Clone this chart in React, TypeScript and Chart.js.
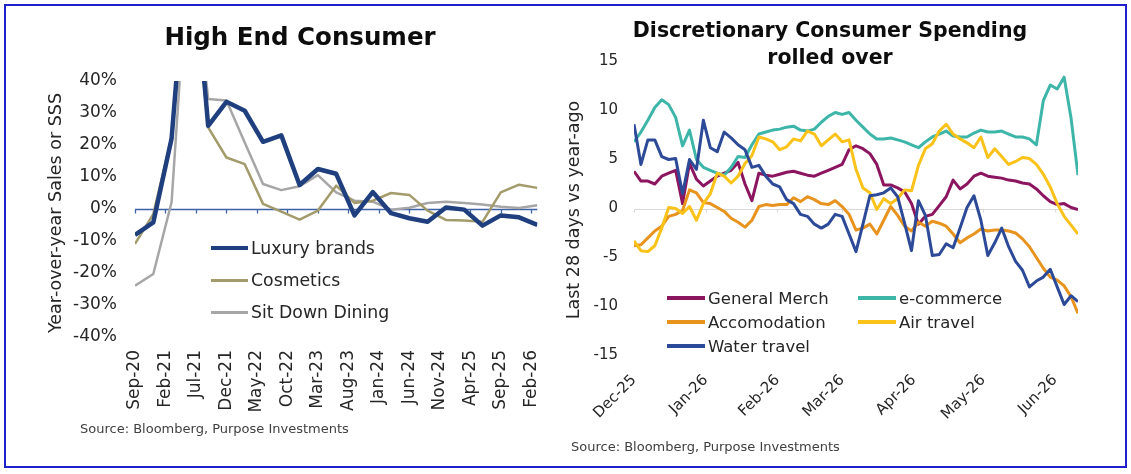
import { useEffect, useRef } from "react"
import { Chart, registerables } from "chart.js"

Chart.register(...registerables)

const FONT = '"DejaVu Sans", sans-serif'
const TEXT = "#262626"

// ---- High End Consumer (quarterly, YoY %) ----
const quarterLabels = [
  "Sep-20", "Dec-20", "Mar-21", "Jun-21", "Sep-21", "Dec-21", "Mar-22", "Jun-22",
  "Sep-22", "Dec-22", "Mar-23", "Jun-23", "Sep-23", "Dec-23", "Mar-24", "Jun-24",
  "Sep-24", "Dec-24", "Mar-25", "Jun-25", "Sep-25", "Dec-25", "Mar-26",
]
const luxuryBrands = [-8.1, -4.2, 22, 92, 26, 33.5, 30.7, 21, 23, 7.5, 12.5, 11, -2, 5.3, -1.3, -2.9, -4, 0.5, -0.2, -5.2, -2, -2.6, -5]
const cosmetics = [-10.9, -1.6, 22.4, 82, 25.5, 16.1, 14, 1.6, -0.8, -3.3, -0.5, 7.3, 1.9, 2.6, 5.0, 4.4, -0.5, -3.4, -3.6, -4.0, 5.2, 7.6, 6.6]
const sitDownDining = [-24, -20.3, 2.1, 88, 34.4, 33.9, 20.8, 7.8, 5.9, 7.1, 10.6, 5.2, 2.6, 2.3, -0.2, 0.4, 1.9, 2.3, 1.9, 1.4, 0.7, 0.3, 1.2]
const highEndTickLabels = [
  "Sep-20", "Feb-21", "Jul-21", "Dec-21", "May-22", "Oct-22", "Mar-23",
  "Aug-23", "Jan-24", "Jun-24", "Nov-24", "Apr-25", "Sep-25", "Feb-26",
]

// ---- Discretionary spending (every 3rd day from Dec 1, last 28 days vs year-ago) ----
const SAMPLE_STEP = 3
const generalMerch = [
  3.8, 2.8, 2.8, 2.5, 3.3, 3.6, 3.9, 0.5, 4.6, 3.0,
  2.3, 2.8, 3.3, 3.6, 3.9, 4.7, 2.5, 0.8, 3.6, 3.4,
  3.3, 3.5, 3.7, 3.8, 3.6, 3.4, 3.3, 3.6, 3.9, 4.2,
  4.5, 6.0, 6.4, 6.1, 5.6, 4.5, 2.4, 2.4, 2.1, 1.7,
  0.5, -1.6, -0.8, -0.6, 0.3, 1.2, 2.9, 2.0, 2.5, 3.3,
  3.6, 3.3, 3.2, 3.1, 2.9, 2.8, 2.6, 2.5, 2.0, 1.3,
  0.7, 0.4, 0.5, 0.1, -0.1,
]
const eCommerce = [
  6.8, 7.8, 9.0, 10.3, 11.1, 10.6, 9.3, 6.4, 8.0, 5.0,
  4.2, 3.9, 3.6, 3.4, 4.2, 5.3, 5.2, 6.5, 7.6, 7.8,
  8.0, 8.1, 8.3, 8.4, 8.0, 7.9, 8.1, 8.8, 9.4, 9.8,
  9.6, 9.8, 9.0, 8.3, 7.6, 7.1, 7.1, 7.2, 7.0, 6.8,
  6.5, 6.2, 6.8, 7.3, 7.6, 7.9, 7.4, 7.3, 7.3, 7.7,
  8.0, 7.8, 7.8, 7.9, 7.6, 7.3, 7.3, 7.1, 6.5, 11.0,
  12.6, 12.2, 13.4, 9.2, 3.4,
]
const accomodation = [
  -3.8, -3.7, -3.0, -2.3, -1.8, -0.8, -0.6, -0.2, 1.9, 1.6,
  0.6, 0.5, 0.1, -0.3, -1.0, -1.4, -1.9, -1.2, 0.2, 0.4,
  0.3, 0.4, 0.4, 1.1, 0.7, 1.2, 0.9, 0.5, 0.4, 0.8,
  0.2, -0.6, -2.2, -2.0, -1.6, -2.6, -1.2, 0.2, -0.7, -1.8,
  -2.3, -1.4, -1.8, -1.3, -1.5, -1.8, -2.6, -3.5, -3.0, -2.6,
  -2.1, -2.3, -2.2, -2.2, -2.3, -2.5, -3.1, -3.9, -5.0, -6.1,
  -7.0, -7.3, -7.9, -9.0, -10.7,
]
const airTravel = [
  -3.3, -4.3, -4.4, -3.8, -2.0, 0.1, 0.0, -0.5, 0.2, -1.2,
  0.5, 1.5, 3.6, 3.3, 2.6, 3.3, 4.6, 5.4, 7.3, 7.1,
  6.8, 6.0, 6.3, 7.1, 6.9, 7.9, 7.6, 6.4, 7.0, 7.6,
  6.8, 7.0, 4.0, 2.1, 1.6, -0.1, 1.0, 0.5, 1.0, 1.9,
  1.8, 4.4, 6.1, 6.6, 7.9, 8.6, 7.6, 7.1, 6.7, 6.2,
  7.3, 5.2, 6.1, 5.3, 4.5, 4.8, 5.2, 5.1, 4.5, 3.5,
  2.2, 0.5, -0.8, -1.7, -2.6,
]
const waterTravel = [
  8.6, 4.5, 7.0, 7.0, 5.3, 5.0, 5.1, 1.5, 5.0, 4.0,
  9.0, 6.2, 5.8, 7.8, 7.2, 6.5, 6.0, 4.2, 4.4, 3.3,
  2.5, 2.2, 0.9, 0.5, -0.6, -0.8, -1.6, -2.0, -1.6, -0.6,
  -0.8, -2.6, -4.4, -1.6, 1.3, 1.4, 1.6, 2.1, 1.2, -1.5,
  -4.3, 0.8, -0.7, -4.8, -4.7, -3.6, -4.0, -2.0, 0.1, 1.3,
  -1.2, -4.8, -3.5, -2.0, -3.9, -5.4, -6.3, -8.0, -7.4, -7.0,
  -6.2, -8.0, -9.8, -8.9, -9.5,
]
const monthTickDays = [0, 31, 62, 90, 121, 151, 182]
const monthTickLabels = ["Dec-25", "Jan-26", "Feb-26", "Mar-26", "Apr-26", "May-26", "Jun-26"]

const highEndColors = { luxury: "#1F3F7F", cosmetics: "#A39B6B", dining: "#A6A6A6" }
const spendColors = {
  general: "#8C1560",
  ecom: "#3DB5A8",
  accom: "#E8931E",
  air: "#FBC21A",
  water: "#2D4A98",
}

// draws the 0 line (Excel style axis crossing at zero) with small tick marks
function zeroAxisPlugin(color: string, tickValues: number[], tickLen: number, width: number) {
  return {
    id: "zeroAxis",
    beforeDatasetsDraw(chart: Chart) {
      const { ctx, chartArea, scales } = chart
      const y = Math.round(scales.y.getPixelForValue(0)) + 0.5
      ctx.save()
      ctx.strokeStyle = color
      ctx.lineWidth = width
      ctx.beginPath()
      ctx.moveTo(chartArea.left, y)
      ctx.lineTo(chartArea.right, y)
      for (const v of tickValues) {
        const x = Math.round(scales.x.getPixelForValue(v)) + 0.5
        ctx.moveTo(x, y)
        ctx.lineTo(x, y + tickLen)
      }
      ctx.stroke()
      ctx.restore()
    },
  }
}

function HighEndConsumerChart() {
  const chartRef = useRef<HTMLCanvasElement>(null)
  const chartInstance = useRef<Chart | null>(null)

  useEffect(() => {
    if (!chartRef.current) return
    if (chartInstance.current) chartInstance.current.destroy()
    const ctx = chartRef.current.getContext("2d")
    if (!ctx) return

    const toPoints = (values: number[]) => quarterLabels.map((_, i) => ({ x: i * 3, y: values[i] }))
    const tickMonths = highEndTickLabels.map((_, i) => i * 5)

    chartInstance.current = new Chart(ctx, {
      type: "line",
      data: {
        datasets: [
          { label: "Luxury brands", data: toPoints(luxuryBrands), borderColor: highEndColors.luxury, borderWidth: 4.5 },
          { label: "Cosmetics", data: toPoints(cosmetics), borderColor: highEndColors.cosmetics, borderWidth: 2.5 },
          { label: "Sit Down Dining", data: toPoints(sitDownDining), borderColor: highEndColors.dining, borderWidth: 2.5 },
        ].map((d) => ({ ...d, clip: 0, pointRadius: 0, tension: 0, borderJoinStyle: "round" as const })),
      },
      options: {
        animation: false,
        responsive: true,
        maintainAspectRatio: false,
        layout: { padding: { left: 0, top: 81, right: 23, bottom: 0 } },
        plugins: { legend: { display: false }, tooltip: { enabled: false } },
        scales: {
          x: {
            type: "linear",
            min: 0,
            max: 66,
            grid: { display: false, drawTicks: false },
            border: { display: false },
            afterBuildTicks: (scale) => {
              scale.ticks = tickMonths.map((value) => ({ value }))
            },
            afterFit: (scale) => {
              scale.height = 137
            },
            ticks: {
              autoSkip: false,
              minRotation: 90,
              maxRotation: 90,
              padding: 13,
              color: TEXT,
              font: { family: FONT, size: 17 },
              callback: (_v, i) => highEndTickLabels[i],
            },
          },
          y: {
            min: -40,
            max: 40,
            grid: { display: false, drawTicks: false },
            border: { display: false },
            afterFit: (scale) => {
              scale.width = 135
            },
            ticks: {
              stepSize: 10,
              padding: 18,
              color: TEXT,
              font: { family: FONT, size: 17 },
              callback: (v) => `${v}%`,
            },
          },
        },
      },
      plugins: [zeroAxisPlugin("#3F62A6", tickMonths, 4, 1.3)],
    })

    return () => {
      if (chartInstance.current) {
        chartInstance.current.destroy()
        chartInstance.current = null
      }
    }
  }, [])

  return (
    <div style={{ position: "absolute", left: 0, top: 0, width: 565, height: 474 }}>
      <canvas ref={chartRef}></canvas>
    </div>
  )
}

function DiscretionaryChart() {
  const chartRef = useRef<HTMLCanvasElement>(null)
  const chartInstance = useRef<Chart | null>(null)

  useEffect(() => {
    if (!chartRef.current) return
    if (chartInstance.current) chartInstance.current.destroy()
    const ctx = chartRef.current.getContext("2d")
    if (!ctx) return

    const toPoints = (values: number[]) => values.map((y, i) => ({ x: i * SAMPLE_STEP, y }))

    chartInstance.current = new Chart(ctx, {
      type: "line",
      data: {
        datasets: [
          { label: "General Merch", data: toPoints(generalMerch), borderColor: spendColors.general, order: 4 },
          { label: "e-commerce", data: toPoints(eCommerce), borderColor: spendColors.ecom, order: 3 },
          { label: "Accomodation", data: toPoints(accomodation), borderColor: spendColors.accom, order: 2 },
          { label: "Air travel", data: toPoints(airTravel), borderColor: spendColors.air, order: 1 },
          { label: "Water travel", data: toPoints(waterTravel), borderColor: spendColors.water, order: 0 },
        ].map((d) => ({ ...d, borderWidth: 3, pointRadius: 0, tension: 0, borderJoinStyle: "round" as const })),
      },
      options: {
        animation: false,
        responsive: true,
        maintainAspectRatio: false,
        layout: { padding: { left: 0, top: 61.5, right: 53, bottom: 0 } },
        plugins: { legend: { display: false }, tooltip: { enabled: false } },
        scales: {
          x: {
            type: "linear",
            min: 0,
            max: 192,
            grid: { display: false, drawTicks: false },
            border: { display: false },
            afterBuildTicks: (scale) => {
              scale.ticks = monthTickDays.map((value) => ({ value }))
            },
            afterFit: (scale) => {
              scale.height = 118.5
            },
            ticks: {
              autoSkip: false,
              minRotation: 45,
              maxRotation: 45,
              padding: 16,
              color: TEXT,
              font: { family: FONT, size: 15 },
              callback: (_v, i) => monthTickLabels[i],
            },
          },
          y: {
            min: -15,
            max: 15,
            grid: { display: false, drawTicks: false },
            border: { display: false },
            afterFit: (scale) => {
              scale.width = 69
            },
            ticks: {
              stepSize: 5,
              padding: 16,
              color: TEXT,
              font: { family: FONT, size: 15 },
            },
          },
        },
      },
      plugins: [zeroAxisPlugin("#D9D9D9", monthTickDays, 3, 1)],
    })

    return () => {
      if (chartInstance.current) {
        chartInstance.current.destroy()
        chartInstance.current = null
      }
    }
  }, [])

  return (
    <div style={{ position: "absolute", left: 565, top: 0, width: 566, height: 474 }}>
      <canvas ref={chartRef}></canvas>
    </div>
  )
}

function Text(props: { x: number; y: number; size: number; bold?: boolean; rotate?: boolean; align?: "left" | "center"; color?: string; lineHeight?: number; children: React.ReactNode }) {
  const { x, y, size, bold, rotate, align = "center", color = TEXT, lineHeight, children } = props
  const shift = align === "center" ? "-50%" : "0"
  return (
    <div
      style={{
        position: "absolute",
        left: x,
        top: y,
        transform: `translate(${shift}, -50%)${rotate ? " rotate(-90deg)" : ""}`,
        transformOrigin: align === "center" ? "center" : "left center",
        fontSize: size,
        fontWeight: bold ? 700 : 400,
        color,
        whiteSpace: "pre",
        textAlign: "center",
        lineHeight: lineHeight ? `${lineHeight}px` : "normal",
      }}
    >
      {children}
    </div>
  )
}

function LegendItem(props: { x: number; y: number; color: string; thickness: number; lineWidth: number; size: number; label: string }) {
  const { x, y, color, thickness, lineWidth, size, label } = props
  return (
    <>
      <div style={{ position: "absolute", left: x, top: y - thickness / 2, width: lineWidth, height: thickness, background: color }} />
      <Text x={x + lineWidth + 3} y={y} size={size} align="left">{label}</Text>
    </>
  )
}

export default function App() {
  return (
    <div
      style={{
        position: "fixed",
        left: 0,
        top: 0,
        width: 1131,
        height: 474,
        background: "#ffffff",
        fontFamily: FONT,
        overflow: "hidden",
      }}
    >
      <HighEndConsumerChart />
      <DiscretionaryChart />

      <div style={{ position: "absolute", left: 4, top: 4, width: 1123, height: 464, border: "2px solid #1F1FCC", boxSizing: "border-box", pointerEvents: "none" }} />

      {/* left panel */}
      <Text x={300} y={36} size={24.5} bold color="#0D0D0D">High End Consumer</Text>
      <Text x={55} y={213} size={17.5} rotate>Year-over-year Sales or SSS</Text>
      <LegendItem x={211} y={248} color={highEndColors.luxury} thickness={4.5} lineWidth={37} size={17.3} label="Luxury brands" />
      <LegendItem x={211} y={280} color={highEndColors.cosmetics} thickness={3} lineWidth={37} size={17.3} label="Cosmetics" />
      <LegendItem x={211} y={312} color={highEndColors.dining} thickness={3} lineWidth={37} size={17.3} label="Sit Down Dining" />
      <Text x={80} y={428} size={13} align="left" color="#404040">Source: Bloomberg, Purpose Investments</Text>

      {/* right panel */}
      <Text x={830} y={43.5} size={20.5} bold color="#0D0D0D" lineHeight={27}>{"Discretionary Consumer Spending\nrolled over"}</Text>
      <Text x={572.5} y={210} size={17.5} rotate>Last 28 days vs year-ago</Text>
      <LegendItem x={667} y={298} color={spendColors.general} thickness={4} lineWidth={38} size={16.5} label="General Merch" />
      <LegendItem x={858} y={298} color={spendColors.ecom} thickness={4} lineWidth={38} size={16.5} label="e-commerce" />
      <LegendItem x={667} y={322} color={spendColors.accom} thickness={4} lineWidth={38} size={16.5} label="Accomodation" />
      <LegendItem x={858} y={322} color={spendColors.air} thickness={4} lineWidth={38} size={16.5} label="Air travel" />
      <LegendItem x={667} y={346} color={spendColors.water} thickness={4} lineWidth={38} size={16.5} label="Water travel" />
      <Text x={571} y={446} size={13} align="left" color="#404040">Source: Bloomberg, Purpose Investments</Text>
    </div>
  )
}
